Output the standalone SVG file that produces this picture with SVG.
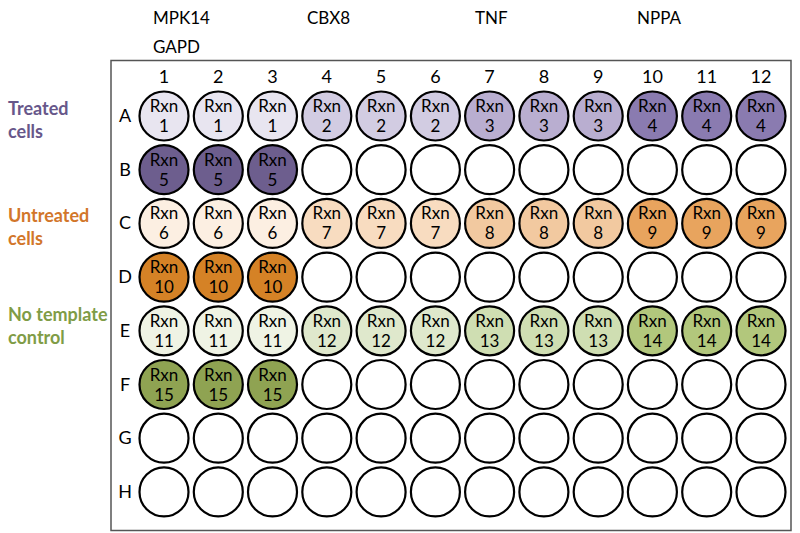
<svg xmlns="http://www.w3.org/2000/svg" width="800" height="533" viewBox="0 0 800 533">
<style>
text{font-family:Lato,"Open Sans","Liberation Sans",sans-serif;fill:#000}
.hd{font-size:17px}
.cn{font-size:18px;text-anchor:middle}
.rl{font-size:18px;text-anchor:middle}
.wt{font-size:17px;text-anchor:middle}
.side{font-size:18px;font-weight:bold}
.w{stroke:#000;stroke-width:2.2}
.e{fill:#fff}
.a1{fill:#e8e5f0}.a2{fill:#d2cce2}.a3{fill:#b9aed0}.a4{fill:#8a7bb0}.b5{fill:#6d5e8e}
.c6{fill:#fcefe2}.c7{fill:#f8dcc0}.c8{fill:#f2c9a0}.c9{fill:#e8a45e}.d10{fill:#d58226}
.e11{fill:#eff3e4}.e12{fill:#dfe8cc}.e13{fill:#cfdeb2}.e14{fill:#b2c77c}.f15{fill:#8fa352}
</style>
<rect width="800" height="533" fill="#fff"/>
<g id="headers">
<text class="hd" x="153" y="24">MPK14</text>
<text class="hd" x="153" y="53">GAPD</text>
<text class="hd" x="307" y="24">CBX8</text>
<text class="hd" x="475" y="24">TNF</text>
<text class="hd" x="637" y="24">NPPA</text>
</g>
<g id="side-labels">
<text class="side" x="8" y="115" style="fill:#67578a">Treated</text>
<text class="side" x="8" y="138" style="fill:#67578a">cells</text>
<text class="side" x="8" y="222" style="fill:#d2762a">Untreated</text>
<text class="side" x="8" y="245" style="fill:#d2762a">cells</text>
<text class="side" x="8" y="321" style="fill:#7f9c46">No template</text>
<text class="side" x="8" y="344" style="fill:#7f9c46">control</text>
</g>
<g id="plate">
<rect x="111" y="60.5" width="680" height="470" fill="#fff" stroke="#555" stroke-width="1.5"/>
</g>
<g id="column-numbers">
<text class="cn" x="164" y="83">1</text>
<text class="cn" x="218.3" y="83">2</text>
<text class="cn" x="272.5" y="83">3</text>
<text class="cn" x="326.8" y="83">4</text>
<text class="cn" x="381.1" y="83">5</text>
<text class="cn" x="435.4" y="83">6</text>
<text class="cn" x="489.6" y="83">7</text>
<text class="cn" x="543.9" y="83">8</text>
<text class="cn" x="598.2" y="83">9</text>
<text class="cn" x="652.4" y="83">10</text>
<text class="cn" x="706.7" y="83">11</text>
<text class="cn" x="761" y="83">12</text>
</g>
<g id="row-letters">
<text class="rl" x="125" y="122">A</text>
<text class="rl" x="125" y="175.7">B</text>
<text class="rl" x="125" y="229.4">C</text>
<text class="rl" x="125" y="283.1">D</text>
<text class="rl" x="125" y="336.8">E</text>
<text class="rl" x="125" y="390.5">F</text>
<text class="rl" x="125" y="444.2">G</text>
<text class="rl" x="125" y="497.9">H</text>
</g>
<g id="connectors"></g>
<g id="row-A">
<g id="A1"><circle class="w a1" cx="164" cy="116" r="24.5"/><text class="wt" x="164" y="112">Rxn</text><text class="wt" x="164" y="132">1</text></g>
<g id="A2"><circle class="w a1" cx="218.3" cy="116" r="24.5"/><text class="wt" x="218.3" y="112">Rxn</text><text class="wt" x="218.3" y="132">1</text></g>
<g id="A3"><circle class="w a1" cx="272.5" cy="116" r="24.5"/><text class="wt" x="272.5" y="112">Rxn</text><text class="wt" x="272.5" y="132">1</text></g>
<g id="A4"><circle class="w a2" cx="326.8" cy="116" r="24.5"/><text class="wt" x="326.8" y="112">Rxn</text><text class="wt" x="326.8" y="132">2</text></g>
<g id="A5"><circle class="w a2" cx="381.1" cy="116" r="24.5"/><text class="wt" x="381.1" y="112">Rxn</text><text class="wt" x="381.1" y="132">2</text></g>
<g id="A6"><circle class="w a2" cx="435.4" cy="116" r="24.5"/><text class="wt" x="435.4" y="112">Rxn</text><text class="wt" x="435.4" y="132">2</text></g>
<g id="A7"><circle class="w a3" cx="489.6" cy="116" r="24.5"/><text class="wt" x="489.6" y="112">Rxn</text><text class="wt" x="489.6" y="132">3</text></g>
<g id="A8"><circle class="w a3" cx="543.9" cy="116" r="24.5"/><text class="wt" x="543.9" y="112">Rxn</text><text class="wt" x="543.9" y="132">3</text></g>
<g id="A9"><circle class="w a3" cx="598.2" cy="116" r="24.5"/><text class="wt" x="598.2" y="112">Rxn</text><text class="wt" x="598.2" y="132">3</text></g>
<g id="A10"><circle class="w a4" cx="652.4" cy="116" r="24.5"/><text class="wt" x="652.4" y="112">Rxn</text><text class="wt" x="652.4" y="132">4</text></g>
<g id="A11"><circle class="w a4" cx="706.7" cy="116" r="24.5"/><text class="wt" x="706.7" y="112">Rxn</text><text class="wt" x="706.7" y="132">4</text></g>
<g id="A12"><circle class="w a4" cx="761" cy="116" r="24.5"/><text class="wt" x="761" y="112">Rxn</text><text class="wt" x="761" y="132">4</text></g>
</g>
<g id="row-B">
<g id="B1"><circle class="w b5" cx="164" cy="169.7" r="24.5"/><text class="wt" x="164" y="165.7">Rxn</text><text class="wt" x="164" y="185.7">5</text></g>
<g id="B2"><circle class="w b5" cx="218.3" cy="169.7" r="24.5"/><text class="wt" x="218.3" y="165.7">Rxn</text><text class="wt" x="218.3" y="185.7">5</text></g>
<g id="B3"><circle class="w b5" cx="272.5" cy="169.7" r="24.5"/><text class="wt" x="272.5" y="165.7">Rxn</text><text class="wt" x="272.5" y="185.7">5</text></g>
<g id="B4"><circle class="w e" cx="326.8" cy="169.7" r="24.5"/></g>
<g id="B5"><circle class="w e" cx="381.1" cy="169.7" r="24.5"/></g>
<g id="B6"><circle class="w e" cx="435.4" cy="169.7" r="24.5"/></g>
<g id="B7"><circle class="w e" cx="489.6" cy="169.7" r="24.5"/></g>
<g id="B8"><circle class="w e" cx="543.9" cy="169.7" r="24.5"/></g>
<g id="B9"><circle class="w e" cx="598.2" cy="169.7" r="24.5"/></g>
<g id="B10"><circle class="w e" cx="652.4" cy="169.7" r="24.5"/></g>
<g id="B11"><circle class="w e" cx="706.7" cy="169.7" r="24.5"/></g>
<g id="B12"><circle class="w e" cx="761" cy="169.7" r="24.5"/></g>
</g>
<g id="row-C">
<g id="C1"><circle class="w c6" cx="164" cy="223.4" r="24.5"/><text class="wt" x="164" y="219.4">Rxn</text><text class="wt" x="164" y="239.4">6</text></g>
<g id="C2"><circle class="w c6" cx="218.3" cy="223.4" r="24.5"/><text class="wt" x="218.3" y="219.4">Rxn</text><text class="wt" x="218.3" y="239.4">6</text></g>
<g id="C3"><circle class="w c6" cx="272.5" cy="223.4" r="24.5"/><text class="wt" x="272.5" y="219.4">Rxn</text><text class="wt" x="272.5" y="239.4">6</text></g>
<g id="C4"><circle class="w c7" cx="326.8" cy="223.4" r="24.5"/><text class="wt" x="326.8" y="219.4">Rxn</text><text class="wt" x="326.8" y="239.4">7</text></g>
<g id="C5"><circle class="w c7" cx="381.1" cy="223.4" r="24.5"/><text class="wt" x="381.1" y="219.4">Rxn</text><text class="wt" x="381.1" y="239.4">7</text></g>
<g id="C6"><circle class="w c7" cx="435.4" cy="223.4" r="24.5"/><text class="wt" x="435.4" y="219.4">Rxn</text><text class="wt" x="435.4" y="239.4">7</text></g>
<g id="C7"><circle class="w c8" cx="489.6" cy="223.4" r="24.5"/><text class="wt" x="489.6" y="219.4">Rxn</text><text class="wt" x="489.6" y="239.4">8</text></g>
<g id="C8"><circle class="w c8" cx="543.9" cy="223.4" r="24.5"/><text class="wt" x="543.9" y="219.4">Rxn</text><text class="wt" x="543.9" y="239.4">8</text></g>
<g id="C9"><circle class="w c8" cx="598.2" cy="223.4" r="24.5"/><text class="wt" x="598.2" y="219.4">Rxn</text><text class="wt" x="598.2" y="239.4">8</text></g>
<g id="C10"><circle class="w c9" cx="652.4" cy="223.4" r="24.5"/><text class="wt" x="652.4" y="219.4">Rxn</text><text class="wt" x="652.4" y="239.4">9</text></g>
<g id="C11"><circle class="w c9" cx="706.7" cy="223.4" r="24.5"/><text class="wt" x="706.7" y="219.4">Rxn</text><text class="wt" x="706.7" y="239.4">9</text></g>
<g id="C12"><circle class="w c9" cx="761" cy="223.4" r="24.5"/><text class="wt" x="761" y="219.4">Rxn</text><text class="wt" x="761" y="239.4">9</text></g>
</g>
<g id="row-D">
<g id="D1"><circle class="w d10" cx="164" cy="277.1" r="24.5"/><text class="wt" x="164" y="273.1">Rxn</text><text class="wt" x="164" y="293.1">10</text></g>
<g id="D2"><circle class="w d10" cx="218.3" cy="277.1" r="24.5"/><text class="wt" x="218.3" y="273.1">Rxn</text><text class="wt" x="218.3" y="293.1">10</text></g>
<g id="D3"><circle class="w d10" cx="272.5" cy="277.1" r="24.5"/><text class="wt" x="272.5" y="273.1">Rxn</text><text class="wt" x="272.5" y="293.1">10</text></g>
<g id="D4"><circle class="w e" cx="326.8" cy="277.1" r="24.5"/></g>
<g id="D5"><circle class="w e" cx="381.1" cy="277.1" r="24.5"/></g>
<g id="D6"><circle class="w e" cx="435.4" cy="277.1" r="24.5"/></g>
<g id="D7"><circle class="w e" cx="489.6" cy="277.1" r="24.5"/></g>
<g id="D8"><circle class="w e" cx="543.9" cy="277.1" r="24.5"/></g>
<g id="D9"><circle class="w e" cx="598.2" cy="277.1" r="24.5"/></g>
<g id="D10"><circle class="w e" cx="652.4" cy="277.1" r="24.5"/></g>
<g id="D11"><circle class="w e" cx="706.7" cy="277.1" r="24.5"/></g>
<g id="D12"><circle class="w e" cx="761" cy="277.1" r="24.5"/></g>
</g>
<g id="row-E">
<g id="E1"><circle class="w e11" cx="164" cy="330.8" r="24.5"/><text class="wt" x="164" y="326.8">Rxn</text><text class="wt" x="164" y="346.8">11</text></g>
<g id="E2"><circle class="w e11" cx="218.3" cy="330.8" r="24.5"/><text class="wt" x="218.3" y="326.8">Rxn</text><text class="wt" x="218.3" y="346.8">11</text></g>
<g id="E3"><circle class="w e11" cx="272.5" cy="330.8" r="24.5"/><text class="wt" x="272.5" y="326.8">Rxn</text><text class="wt" x="272.5" y="346.8">11</text></g>
<g id="E4"><circle class="w e12" cx="326.8" cy="330.8" r="24.5"/><text class="wt" x="326.8" y="326.8">Rxn</text><text class="wt" x="326.8" y="346.8">12</text></g>
<g id="E5"><circle class="w e12" cx="381.1" cy="330.8" r="24.5"/><text class="wt" x="381.1" y="326.8">Rxn</text><text class="wt" x="381.1" y="346.8">12</text></g>
<g id="E6"><circle class="w e12" cx="435.4" cy="330.8" r="24.5"/><text class="wt" x="435.4" y="326.8">Rxn</text><text class="wt" x="435.4" y="346.8">12</text></g>
<g id="E7"><circle class="w e13" cx="489.6" cy="330.8" r="24.5"/><text class="wt" x="489.6" y="326.8">Rxn</text><text class="wt" x="489.6" y="346.8">13</text></g>
<g id="E8"><circle class="w e13" cx="543.9" cy="330.8" r="24.5"/><text class="wt" x="543.9" y="326.8">Rxn</text><text class="wt" x="543.9" y="346.8">13</text></g>
<g id="E9"><circle class="w e13" cx="598.2" cy="330.8" r="24.5"/><text class="wt" x="598.2" y="326.8">Rxn</text><text class="wt" x="598.2" y="346.8">13</text></g>
<g id="E10"><circle class="w e14" cx="652.4" cy="330.8" r="24.5"/><text class="wt" x="652.4" y="326.8">Rxn</text><text class="wt" x="652.4" y="346.8">14</text></g>
<g id="E11"><circle class="w e14" cx="706.7" cy="330.8" r="24.5"/><text class="wt" x="706.7" y="326.8">Rxn</text><text class="wt" x="706.7" y="346.8">14</text></g>
<g id="E12"><circle class="w e14" cx="761" cy="330.8" r="24.5"/><text class="wt" x="761" y="326.8">Rxn</text><text class="wt" x="761" y="346.8">14</text></g>
</g>
<g id="row-F">
<g id="F1"><circle class="w f15" cx="164" cy="384.5" r="24.5"/><text class="wt" x="164" y="380.5">Rxn</text><text class="wt" x="164" y="400.5">15</text></g>
<g id="F2"><circle class="w f15" cx="218.3" cy="384.5" r="24.5"/><text class="wt" x="218.3" y="380.5">Rxn</text><text class="wt" x="218.3" y="400.5">15</text></g>
<g id="F3"><circle class="w f15" cx="272.5" cy="384.5" r="24.5"/><text class="wt" x="272.5" y="380.5">Rxn</text><text class="wt" x="272.5" y="400.5">15</text></g>
<g id="F4"><circle class="w e" cx="326.8" cy="384.5" r="24.5"/></g>
<g id="F5"><circle class="w e" cx="381.1" cy="384.5" r="24.5"/></g>
<g id="F6"><circle class="w e" cx="435.4" cy="384.5" r="24.5"/></g>
<g id="F7"><circle class="w e" cx="489.6" cy="384.5" r="24.5"/></g>
<g id="F8"><circle class="w e" cx="543.9" cy="384.5" r="24.5"/></g>
<g id="F9"><circle class="w e" cx="598.2" cy="384.5" r="24.5"/></g>
<g id="F10"><circle class="w e" cx="652.4" cy="384.5" r="24.5"/></g>
<g id="F11"><circle class="w e" cx="706.7" cy="384.5" r="24.5"/></g>
<g id="F12"><circle class="w e" cx="761" cy="384.5" r="24.5"/></g>
</g>
<g id="row-G">
<g id="G1"><circle class="w e" cx="164" cy="438.2" r="24.5"/></g>
<g id="G2"><circle class="w e" cx="218.3" cy="438.2" r="24.5"/></g>
<g id="G3"><circle class="w e" cx="272.5" cy="438.2" r="24.5"/></g>
<g id="G4"><circle class="w e" cx="326.8" cy="438.2" r="24.5"/></g>
<g id="G5"><circle class="w e" cx="381.1" cy="438.2" r="24.5"/></g>
<g id="G6"><circle class="w e" cx="435.4" cy="438.2" r="24.5"/></g>
<g id="G7"><circle class="w e" cx="489.6" cy="438.2" r="24.5"/></g>
<g id="G8"><circle class="w e" cx="543.9" cy="438.2" r="24.5"/></g>
<g id="G9"><circle class="w e" cx="598.2" cy="438.2" r="24.5"/></g>
<g id="G10"><circle class="w e" cx="652.4" cy="438.2" r="24.5"/></g>
<g id="G11"><circle class="w e" cx="706.7" cy="438.2" r="24.5"/></g>
<g id="G12"><circle class="w e" cx="761" cy="438.2" r="24.5"/></g>
</g>
<g id="row-H">
<g id="H1"><circle class="w e" cx="164" cy="491.9" r="24.5"/></g>
<g id="H2"><circle class="w e" cx="218.3" cy="491.9" r="24.5"/></g>
<g id="H3"><circle class="w e" cx="272.5" cy="491.9" r="24.5"/></g>
<g id="H4"><circle class="w e" cx="326.8" cy="491.9" r="24.5"/></g>
<g id="H5"><circle class="w e" cx="381.1" cy="491.9" r="24.5"/></g>
<g id="H6"><circle class="w e" cx="435.4" cy="491.9" r="24.5"/></g>
<g id="H7"><circle class="w e" cx="489.6" cy="491.9" r="24.5"/></g>
<g id="H8"><circle class="w e" cx="543.9" cy="491.9" r="24.5"/></g>
<g id="H9"><circle class="w e" cx="598.2" cy="491.9" r="24.5"/></g>
<g id="H10"><circle class="w e" cx="652.4" cy="491.9" r="24.5"/></g>
<g id="H11"><circle class="w e" cx="706.7" cy="491.9" r="24.5"/></g>
<g id="H12"><circle class="w e" cx="761" cy="491.9" r="24.5"/></g>
</g>
</svg>
